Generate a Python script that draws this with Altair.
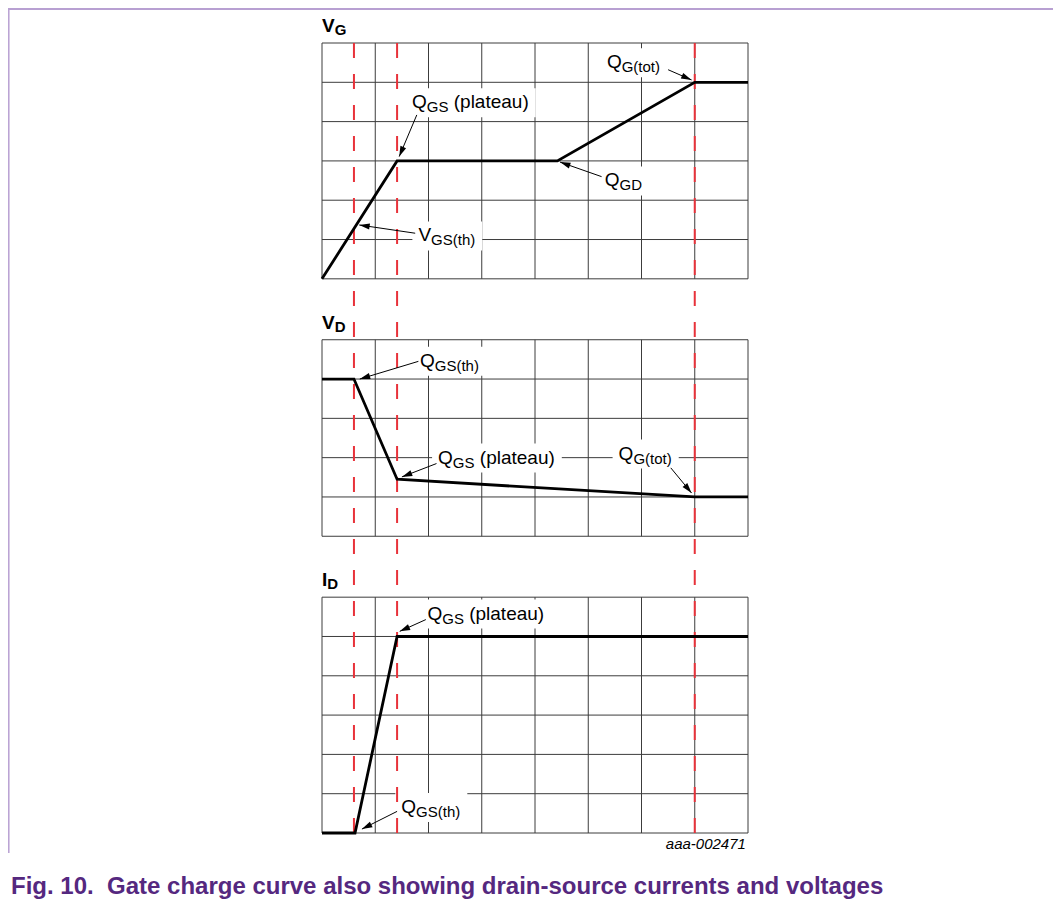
import math
import altair as alt
import pandas as pd

# ---------------- data ----------------
# charge axis is in grid columns (8 columns), values in grid rows
vg_q = [0.0, 1.41, 4.42, 7.0, 8.0]
vg_v = [0.0, 3.0, 3.0, 5.0, 5.0]
vd_q = [0.0, 0.6, 1.41, 7.0, 8.0]
vd_v = [4.0, 4.0, 1.45, 1.0, 1.0]
id_q = [0.0, 0.62, 1.41, 8.0]
id_v = [0.0, 0.0, 5.0, 5.0]
marker_q = [0.6, 1.41, 7.0]

panel_names = ["VG", "VD", "ID"]
panel_title_main = ["V", "V", "I"]
panel_title_sub = ["G", "D", "D"]
panel_rows = [6, 5, 6]
grid_cols = 8

# annotations
ann_panel = ["VG", "VG", "VG", "VG", "VD", "VD", "VD", "ID", "ID"]
ann_main = ["Q", "Q", "Q", "V", "Q", "Q", "Q", "Q", "Q"]
ann_sub = ["G(tot)", "GS", "GD", "GS(th)", "GS(th)", "GS", "G(tot)", "GS", "GS(th)"]
ann_rest = ["", " (plateau)", "", "", "", " (plateau)", "", " (plateau)", ""]
ann_tq = [5.35, 1.69, 5.31, 1.81, 1.84, 2.18, 5.57, 1.98, 1.49]
ann_tv = [5.36, 4.34, 2.35, 0.95, 4.31, 1.85, 1.95, 5.43, 0.51]
arr_q1 = [6.50, 1.78, 5.25, 1.75, 1.81, 2.15, 6.55, 1.95, 1.41]
arr_v1 = [5.32, 4.17, 2.60, 1.16, 4.45, 1.85, 1.74, 5.43, 0.55]
arr_q2 = [6.94, 1.45, 4.47, 0.70, 0.71, 1.50, 6.94, 1.46, 0.75]
arr_v2 = [5.06, 3.11, 2.97, 1.37, 4.00, 1.51, 1.10, 5.13, 0.10]

figure_id = "aaa-002471"
caption = "Fig. 10.  Gate charge curve also showing drain-source currents and voltages"

# ---------------- layout ----------------
W, H = 426, 790
YTOP = 20.1
panel_base = {"VG": 14.1, "VD": 7.55, "ID": 0.0}
PX_X = W / grid_cols
PX_Y = H / YTOP
FONT = "Liberation Sans"
F_MAIN, F_SUB = 19, 15
F_TMAIN, F_TSUB = 19, 15
NB = "\u00a0"

REG = {"Q": 778, "V": 667, "G": 778, "S": 667, "D": 722, "(": 333, ")": 333,
       "t": 278, "h": 556, "o": 556, "p": 556, "l": 222, "a": 556, "e": 556,
       "u": 556, " ": 278, "I": 278}
BOLD = {"V": 667, "I": 278, "G": 778, "D": 722}


def tw(text, size, bold=False):
    tbl = BOLD if bold else REG
    return sum(tbl.get(c, 556) for c in text) / 1000.0 * size


def keep_spaces(s):
    return s.replace(" ", NB)


# grid
grid_rows = []
for name, rows in zip(panel_names, panel_rows):
    b = panel_base[name]
    for k in range(grid_cols + 1):
        grid_rows.append(dict(x=k, x2=k, y=b, y2=b + rows))
    for j in range(rows + 1):
        grid_rows.append(dict(x=0, x2=grid_cols, y=b + j, y2=b + j))
grid_df = pd.DataFrame(grid_rows)

# curves
curve_rows = []
for name, qs, vs in [("VG", vg_q, vg_v), ("VD", vd_q, vd_v), ("ID", id_q, id_v)]:
    for i, (q, v) in enumerate(zip(qs, vs)):
        curve_rows.append(dict(panel=name, i=i, q=q, y=v + panel_base[name]))
curve_df = pd.DataFrame(curve_rows)

marker_df = pd.DataFrame(dict(q=marker_q, y0=[0.0] * len(marker_q),
                              y1=[YTOP] * len(marker_q)))

# panel titles
tmain, tsub = [], []
for name, rows, m, s in zip(panel_names, panel_rows, panel_title_main, panel_title_sub):
    top = panel_base[name] + rows
    tmain.append(dict(q=0.0, y=top + 11 / PX_Y, t=m))
    tsub.append(dict(q=tw(m, F_TMAIN, True) / PX_X, y=top + 8 / PX_Y, t=s))
tmain_df = pd.DataFrame(tmain)
tsub_df = pd.DataFrame(tsub)

# annotation text, boxes, arrows
a_main, a_sub, a_rest, boxes, shafts, heads = [], [], [], [], [], []
for p, m, s, r, tq, tv, q1, v1, q2, v2 in zip(ann_panel, ann_main, ann_sub, ann_rest,
                                              ann_tq, ann_tv, arr_q1, arr_v1,
                                              arr_q2, arr_v2):
    b = panel_base[p]
    qs = tq + tw(m, F_MAIN) / PX_X
    qr = qs + tw(s, F_SUB) / PX_X
    qe = qr + tw(r, F_MAIN) / PX_X
    a_main.append(dict(q=tq, y=b + tv, t=m))
    a_sub.append(dict(q=qs, y=b + tv - 4 / PX_Y, t=s))
    if r:
        lead = len(r) - len(r.lstrip(" "))
        a_rest.append(dict(q=qr + tw(" " * lead, F_MAIN) / PX_X, y=b + tv,
                           t=r.lstrip(" ")))
    boxes.append(dict(x=tq - 6 / PX_X, x2=qe + 7 / PX_X,
                      y=b + tv - 9 / PX_Y, y2=b + tv + 20 / PX_Y))
    shafts.append(dict(x=q1, x2=q2, y=b + v1, y2=b + v2))
    dx = (q2 - q1) * PX_X
    dy = -(v2 - v1) * PX_Y
    ang = math.degrees(math.atan2(dx, -dy)) % 360
    heads.append(dict(q=q2, y=b + v2, ang=ang))
a_main_df = pd.DataFrame(a_main)
a_sub_df = pd.DataFrame(a_sub)
a_rest_df = pd.DataFrame(a_rest)
box_df = pd.DataFrame(boxes)
shaft_df = pd.DataFrame(shafts)
head_df = pd.DataFrame(heads)

id_df = pd.DataFrame([dict(q=grid_cols - 0.04, y=-16 / PX_Y, t=figure_id)])
cap_df = pd.DataFrame([dict(t=keep_spaces(caption))])
frame_df = pd.DataFrame([dict(a=1)])

XS = alt.Scale(domain=[0, grid_cols], nice=False, zero=False)
YS = alt.Scale(domain=[0, YTOP], nice=False, zero=False)


def X(f):
    return alt.X(f, type="quantitative", scale=XS, axis=None)


def Y(f):
    return alt.Y(f, type="quantitative", scale=YS, axis=None)


grid = alt.Chart(grid_df).mark_rule(color="#3c3c3c", strokeWidth=1).encode(
    x=X("x"), x2="x2", y=Y("y"), y2="y2")

box = alt.Chart(box_df).mark_rect(color="white").encode(
    x=X("x"), x2="x2", y=Y("y"), y2="y2")

markers = alt.Chart(marker_df).mark_rule(color="#e8323a", strokeWidth=2,
                                          strokeDash=[15, 16]).encode(
    x=X("q"), y=Y("y0"), y2="y1")

curves = alt.Chart(curve_df).mark_line(color="black", strokeWidth=2.8).encode(
    x=X("q"), y=Y("y"), detail="panel:N", order="i:Q")

shaft = alt.Chart(shaft_df).mark_rule(color="black", strokeWidth=1).encode(
    x=X("x"), x2="x2", y=Y("y"), y2="y2")

head = alt.Chart(head_df).mark_point(
    shape="M0,0L0.5,1.7L-0.5,1.7Z", filled=True, color="black", size=150,
    opacity=1).encode(x=X("q"), y=Y("y"), angle=alt.Angle("ang:Q", scale=None))


def txt(df, size, bold=False, italic=False, align="left"):
    kw = dict(font=FONT, fontSize=size, align=align, baseline="alphabetic",
              color="black")
    if bold:
        kw["fontWeight"] = "bold"
    if italic:
        kw["fontStyle"] = "italic"
    return alt.Chart(df).mark_text(**kw).encode(x=X("q"), y=Y("y"), text="t:N")


t1 = txt(tmain_df, F_TMAIN, bold=True)
t2 = txt(tsub_df, F_TSUB, bold=True)
l1 = txt(a_main_df, F_MAIN)
l2 = txt(a_sub_df, F_SUB)
l3 = txt(a_rest_df, F_MAIN)
fid = txt(id_df, 15, italic=True, align="right")

cap = alt.Chart(cap_df).mark_text(
    font=FONT, fontSize=24, fontWeight="bold", color="#55287f", align="left",
    baseline="alphabetic").encode(x=alt.value(-311), y=alt.value(851), text="t:N")

frame_top = alt.Chart(frame_df).mark_rule(color="#b8a0d2", strokeWidth=2).encode(
    x=alt.value(-314), x2=alt.value(W + 305), y=alt.value(-34), y2=alt.value(-34))
frame_left = alt.Chart(frame_df).mark_rule(color="#b8a0d2", strokeWidth=1.5).encode(
    x=alt.value(-313.2), x2=alt.value(-313.2), y=alt.value(-35), y2=alt.value(810))

chart = alt.layer(
    frame_top, frame_left, grid, box, markers, curves, shaft, head,
    t1, t2, l1, l2, l3, fid, cap
).properties(
    width=W, height=H,
    autosize=alt.AutoSizeParams(type="none"),
    padding={"left": 314, "top": 35, "right": 305, "bottom": 67},
    background="white",
).configure_view(stroke=None)

chart.save("out.html", embed_options={"renderer": "svg", "actions": False})
